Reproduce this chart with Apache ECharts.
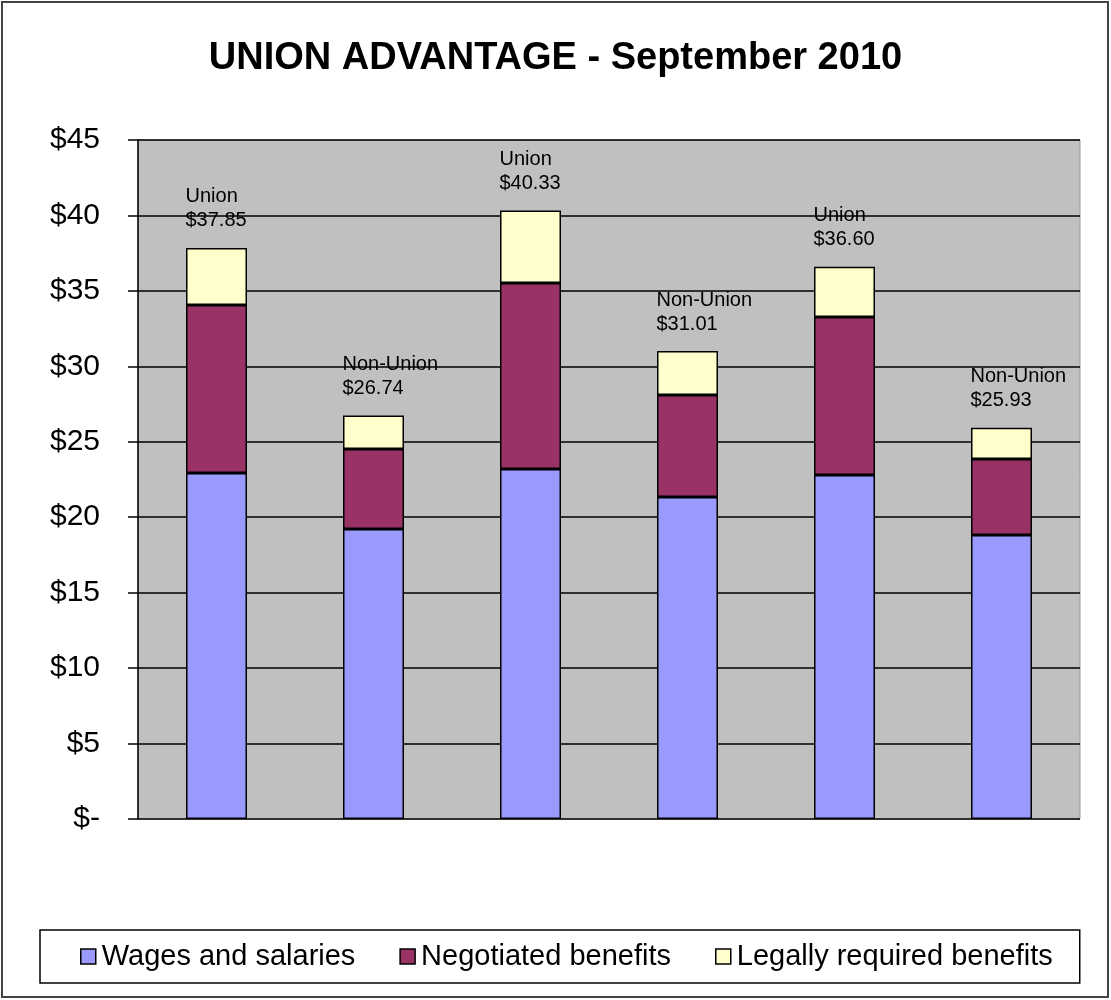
<!DOCTYPE html>
<html>
<head>
    <meta charset="UTF-8">
    <title>Union Advantage</title>
    <script src="https://cdn.jsdelivr.net/npm/echarts/dist/echarts.min.js"></script>
</head>
<body style="margin:0">
    <div id="chart" style="width:1111px;height:1000px;"></div>
    <script type="text/javascript">
        var myChart = echarts.init(document.getElementById('chart'));

        // values ($ per hour)
        var groups = ['Union', 'Non-Union', 'Union', 'Non-Union', 'Union', 'Non-Union'];
        var totals = ['$37.85', '$26.74', '$40.33', '$31.01', '$36.60', '$25.93'];
        var wages = [22.93, 19.22, 23.19, 21.34, 22.80, 18.82];
        var negotiated = [11.13, 5.30, 12.33, 6.76, 10.47, 5.04];
        var legal = [3.79, 2.22, 4.81, 2.91, 3.33, 2.07];
        var seriesNames = ['Wages and salaries', 'Negotiated benefits', 'Legally required benefits'];
        var colors = ['#9999FF', '#993366', '#FFFFCC'];

        var font = 'Arial, "Liberation Sans", sans-serif';

        function barSeries(name, data, color, withLabel) {
            var s = {
                name: name,
                type: 'bar',
                stack: 'total',
                barWidth: 61,
                data: data,
                itemStyle: { color: color, borderColor: '#000', borderWidth: 1.5 }
            };
            if (withLabel) {
                s.label = {
                    show: true,
                    position: 'top',
                    align: 'left',
                    offset: [-31, -10],
                    fontFamily: font,
                    fontSize: 20,
                    lineHeight: 24,
                    color: '#000',
                    formatter: function (p) {
                        return groups[p.dataIndex] + '\n' + totals[p.dataIndex];
                    }
                };
            }
            return s;
        }

        var option = {
            animation: false,
            backgroundColor: '#fff',
            color: colors,
            title: {
                text: 'UNION ADVANTAGE - September 2010',
                left: 'center',
                top: 35,
                textStyle: { fontFamily: font, fontSize: 38, fontWeight: 'bold', color: '#000' }
            },
            grid: {
                left: 138,
                right: 31,
                top: 140,
                bottom: 181,
                show: true,
                backgroundColor: '#C0C0C0',
                borderColor: '#999',
                borderWidth: 1
            },
            legend: {
                bottom: 17,
                left: 40,
                padding: [12, 27, 12, 40],
                borderColor: '#000',
                borderWidth: 1.5,
                itemWidth: 15,
                itemHeight: 15,
                itemGap: 44,
                icon: 'rect',
                itemStyle: { borderColor: '#000', borderWidth: 1.5 },
                textStyle: { fontFamily: font, fontSize: 29, color: '#000', padding: [0, 0, 0, 1] },
                data: seriesNames
            },
            graphic: [{
                type: 'rect',
                shape: { x: 2, y: 2, width: 1106, height: 995 },
                style: { fill: 'none', stroke: '#444', lineWidth: 2 },
                silent: true
            }],
            xAxis: {
                type: 'category',
                data: groups,
                axisLine: { show: false },
                axisTick: { show: false },
                axisLabel: { show: false }
            },
            yAxis: {
                type: 'value',
                min: 0,
                max: 45,
                interval: 5,
                axisLine: { show: true, lineStyle: { color: '#000', width: 1.5 } },
                axisTick: { show: true, length: 10, lineStyle: { color: '#000', width: 1.5 } },
                splitLine: { lineStyle: { color: '#000', width: 1.5 } },
                axisLabel: {
                    margin: 38,
                    fontFamily: font,
                    fontSize: 30,
                    color: '#000',
                    formatter: function (v) { return v === 0 ? '$-' : '$' + v; }
                }
            },
            series: [
                barSeries(seriesNames[0], wages, colors[0], false),
                barSeries(seriesNames[1], negotiated, colors[1], false),
                barSeries(seriesNames[2], legal, colors[2], true)
            ]
        };

        myChart.setOption(option);
    </script>
</body>
</html>
